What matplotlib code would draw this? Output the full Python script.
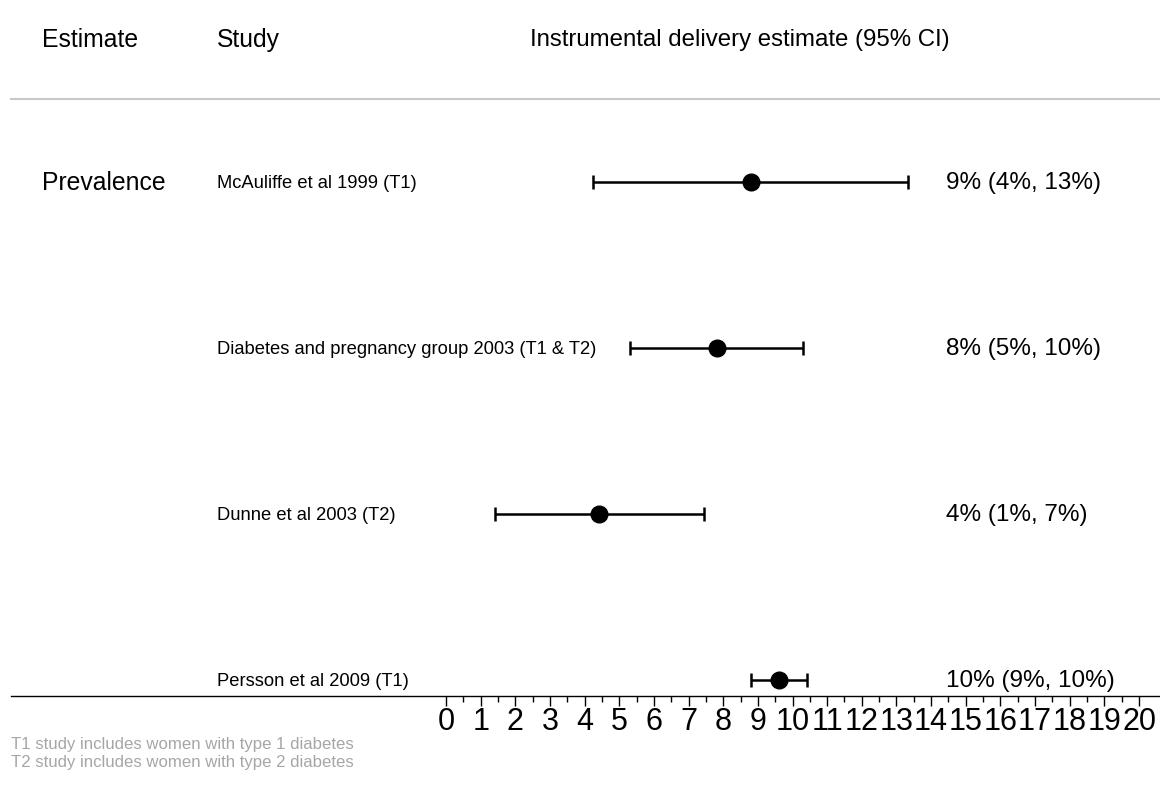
import matplotlib
matplotlib.use("Agg")
import matplotlib.pyplot as plt
from matplotlib.transforms import blended_transform_factory

# forest plot data (instrumental delivery prevalence, %)
studies = ["McAuliffe et al 1999 (T1)",
           "Diabetes and pregnancy group 2003 (T1 & T2)",
           "Dunne et al 2003 (T2)",
           "Persson et al 2009 (T1)"]
estimate = [8.8, 7.82, 4.42, 9.61]
lower = [4.24, 5.31, 1.41, 8.8]
upper = [13.33, 10.3, 7.45, 10.42]
group_label = "Prevalence"
x_ticks = list(range(0, 21))
footnotes = ["T1 study includes women with type 1 diabetes",
             "T2 study includes women with type 2 diabetes"]

plt.rcParams['font.family'] = ['Liberation Sans', 'DejaVu Sans']

fig = plt.figure(figsize=(11.6, 8.12), dpi=100)
W, H = 1160.0, 812.0
ax = fig.add_axes([11 / W, (H - 697) / H, 1 - 11 / W, 697 / H])

rows = list(range(len(studies), 0, -1))
row_px = 166.0
ax.set_ylim(1 - (697 - 681) / row_px, 1 + 681 / row_px)
x0_px, unit_px = 446.0, 34.65
ax.set_xlim((11 - x0_px) / unit_px, (1160 - x0_px) / unit_px)

xerr = [[e - l for e, l in zip(estimate, lower)],
        [u - e for e, u in zip(estimate, upper)]]
ax.errorbar(estimate, rows, xerr=xerr, fmt='o', color='black',
            markersize=12, elinewidth=1.8, capsize=5, capthick=1.8)

for s in ['top', 'right', 'left']:
    ax.spines[s].set_visible(False)
ax.spines['bottom'].set_linewidth(1.0)
ax.set_yticks([])
ax.set_xticks(x_ticks)
ax.set_xticklabels([str(t) for t in x_ticks], fontsize=22)
ax.set_xticks([t + 0.5 for t in x_ticks[:-1]], minor=True)
ax.tick_params(axis='x', which='major', length=7, width=1, pad=0)
ax.tick_params(axis='x', which='minor', length=4, width=1)

tr = blended_transform_factory(fig.transFigure, ax.transData)
header_y = 1 + (681 - 40) / row_px
ax.text(42 / W, header_y, "Estimate", transform=tr, fontsize=17.8, va='center')
ax.text(217 / W, header_y, "Study", transform=tr, fontsize=17.8, va='center')
ax.text(530 / W, header_y, "Instrumental delivery estimate (95% CI)",
        transform=tr, fontsize=17.3, va='center')
ax.axhline(4.5, color='#c8c8c8', linewidth=1.5, clip_on=False)

ax.text(42 / W, rows[0], group_label, transform=tr, fontsize=17.8, va='center')
for r, s, e, l, u in zip(rows, studies, estimate, lower, upper):
    ax.text(217 / W, r, s, transform=tr, fontsize=13.2, va='center')
    ax.text(946 / W, r, f"{round(e):.0f}% ({round(l):.0f}%, {round(u):.0f}%)",
            transform=tr, fontsize=17.5, va='center')

for i, note in enumerate(footnotes):
    fig.text(11 / W, 1 - (745 + 18 * i) / H, note, fontsize=12.1,
             color='#a6a6a6', va='center')

fig.savefig("out.png", dpi=100)
